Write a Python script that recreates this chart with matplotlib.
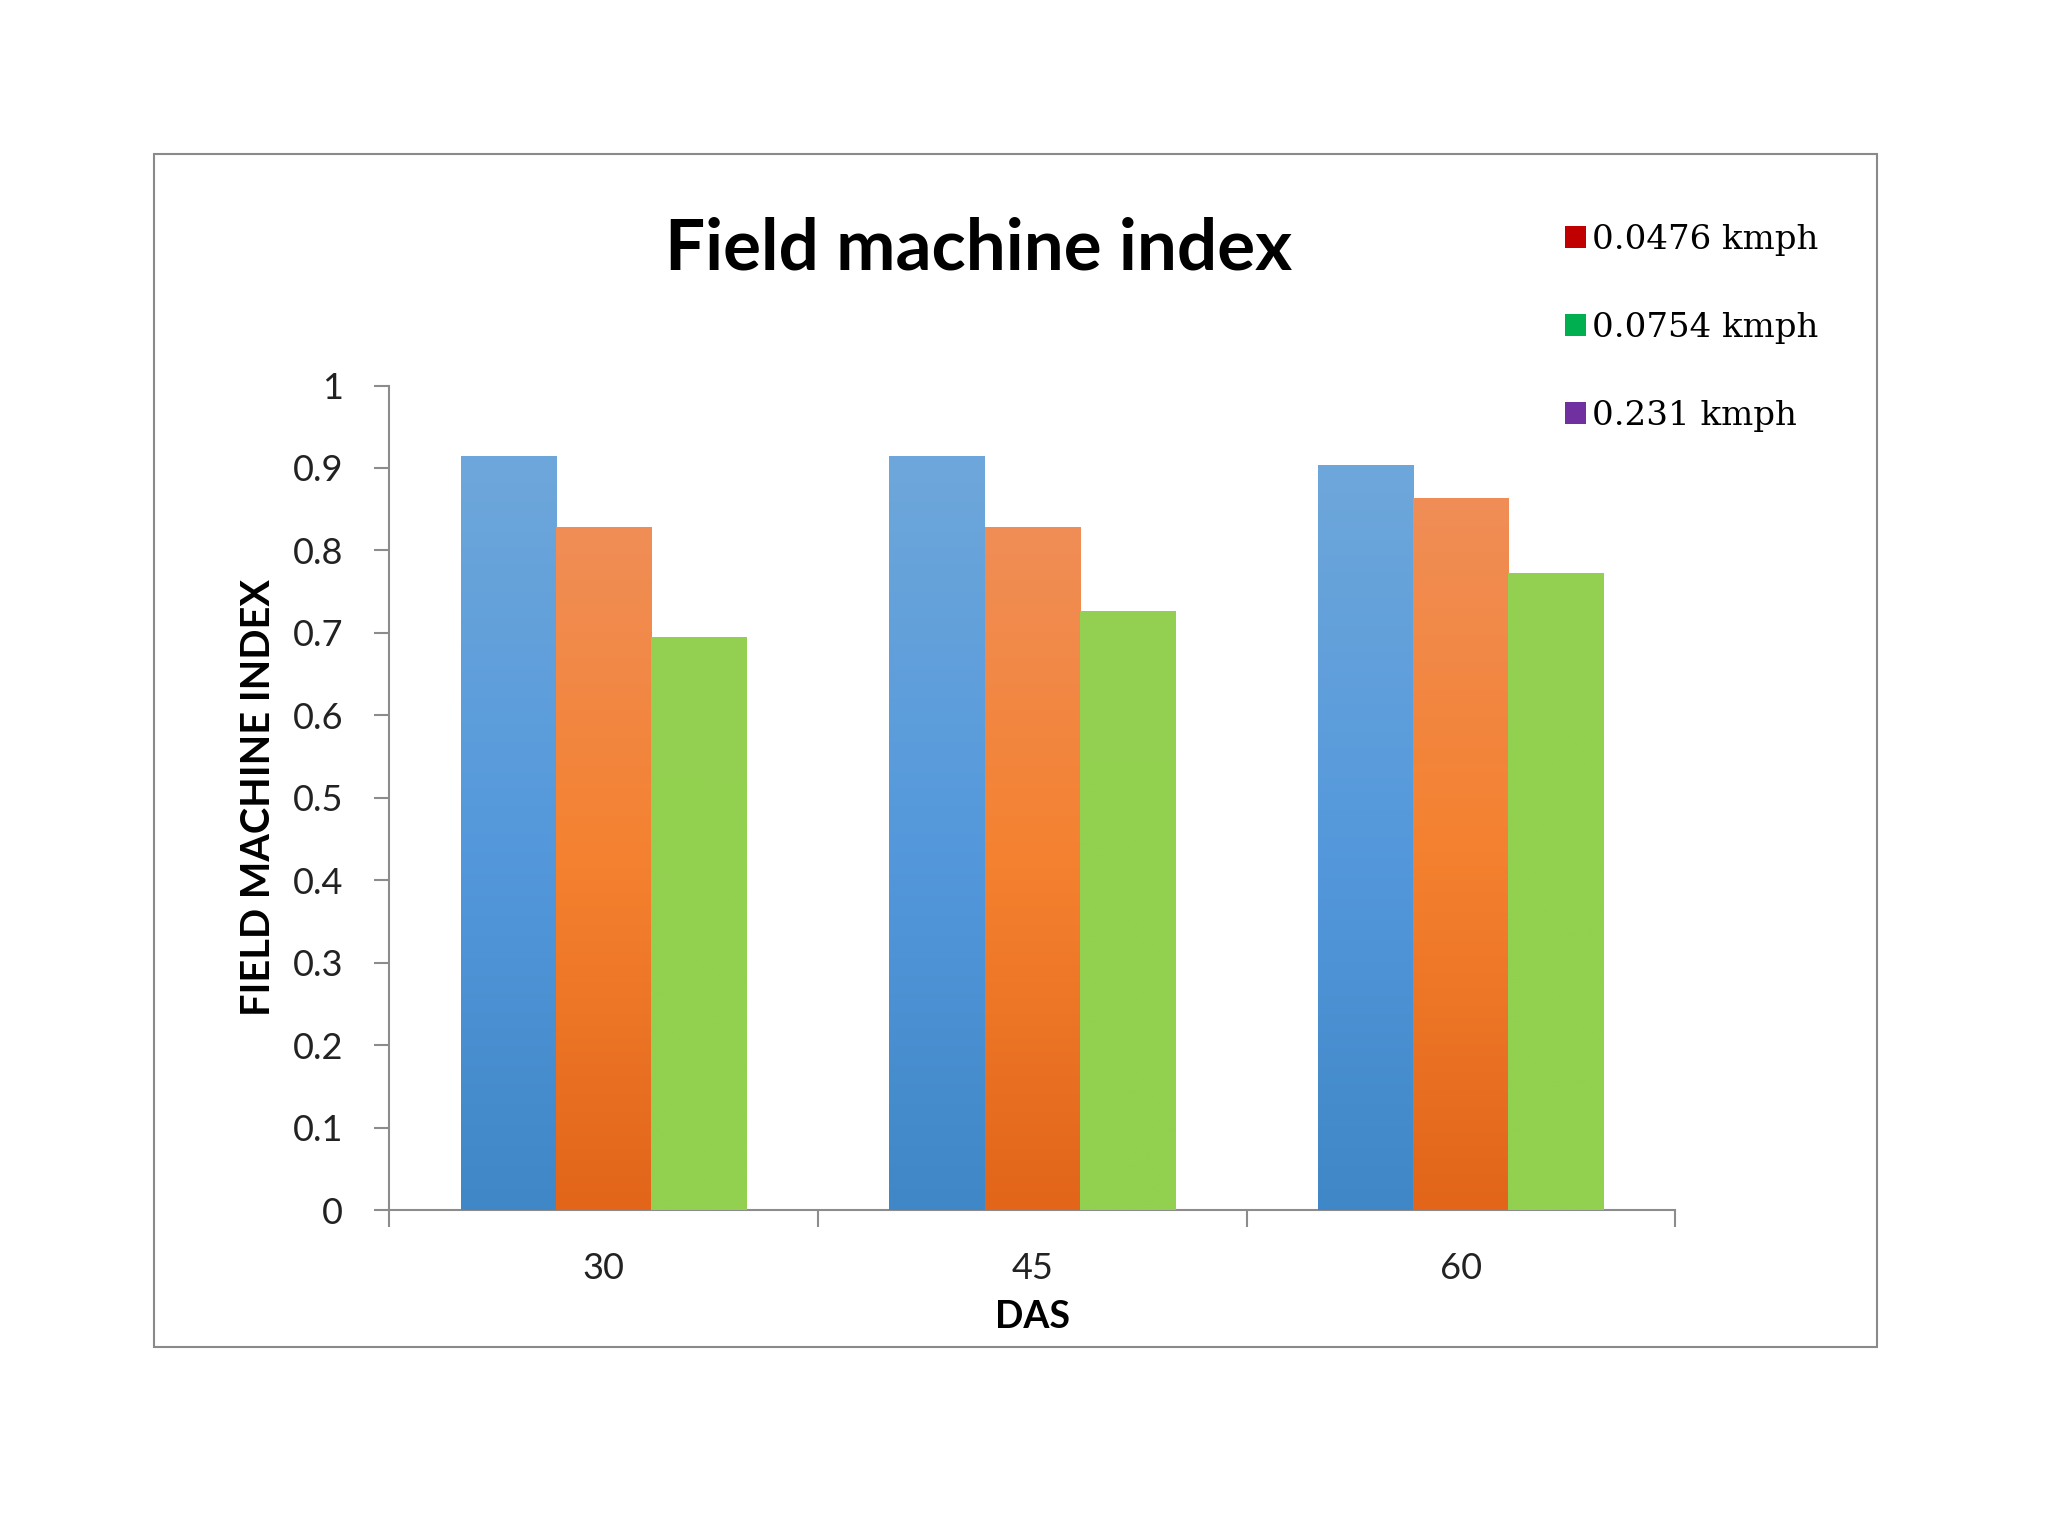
import matplotlib
matplotlib.use("Agg")
import matplotlib.pyplot as plt
import numpy as np
from matplotlib.colors import LinearSegmentedColormap
from matplotlib.patches import Patch, Rectangle

categories = ["30", "45", "60"]
series_a = [0.915, 0.915, 0.904]
series_b = [0.829, 0.829, 0.864]
series_c = [0.695, 0.727, 0.773]
legend_labels = ["0.0476 kmph", "0.0754 kmph", "0.231 kmph"]
legend_colors = ["#c00000", "#00b050", "#7030a0"]
yticks = [0, 0.1, 0.2, 0.3, 0.4, 0.5, 0.6, 0.7, 0.8, 0.9, 1.0]
ytick_labels = ["0", "0.1", "0.2", "0.3", "0.4", "0.5", "0.6", "0.7", "0.8", "0.9", "1"]

gradients = [
    ["#3f87c7", "#5599dc", "#6ea7da"],   # bottom, mid, top
    ["#e2651a", "#f4812f", "#f08e57"],
    ["#92d050", "#92d050", "#94d052"],
]

SANS = ["Lato", "DejaVu Sans"]
SERIF = ["DejaVu Serif"]
AXIS_GRAY = "#8c8c8c"

fig = plt.figure(figsize=(20.48, 15.36), dpi=100)
fig.patch.set_facecolor("white")

# outer frame
fig.patches.append(Rectangle((0.0752, 0.1230), 0.9165 - 0.0752, 0.8997 - 0.1230,
                             transform=fig.transFigure, fill=False,
                             edgecolor="#8a8a8a", linewidth=1.5, zorder=0))

ax = fig.add_axes([0.190, 0.2122, 0.818 - 0.190, 0.749 - 0.2122])
x = np.arange(len(categories))
w = 0.222
for i, (vals, grad) in enumerate(zip([series_a, series_b, series_c], gradients)):
    bars = ax.bar(x + (i - 1) * w, vals, width=w, color=grad[1], edgecolor="none", zorder=2)
    cmap = LinearSegmentedColormap.from_list("g%d" % i, grad)
    grad_img = np.linspace(0, 1, 256).reshape(-1, 1)
    for b in bars:
        x0, y0 = b.get_x(), b.get_y()
        bw, bh = b.get_width(), b.get_height()
        im = ax.imshow(grad_img, cmap=cmap, origin="lower", aspect="auto",
                       extent=[x0, x0 + bw, y0, y0 + bh], zorder=3,
                       interpolation="bilinear")
        im.set_clip_path(b)

ax.set_xlim(-0.5, 2.5)
ax.set_ylim(0, 1.0)
ax.set_yticks(yticks)
ax.set_yticklabels(ytick_labels, fontsize=26, family=SANS, color="#222222")
ax.set_xticks([-0.5, 0.5, 1.5, 2.5])
ax.set_xticklabels([])
ax.set_xticks(x, minor=True)
ax.set_xticklabels(categories, minor=True, fontsize=26, family=SANS, color="#222222")
ax.tick_params(axis="x", which="major", length=12, width=1.5, color=AXIS_GRAY, direction="out")
ax.tick_params(axis="x", which="minor", length=0, pad=30)
ax.tick_params(axis="y", length=11, width=1.5, color=AXIS_GRAY, direction="out", pad=22)

for s in ["top", "right"]:
    ax.spines[s].set_visible(False)
for s in ["left", "bottom"]:
    ax.spines[s].set_color(AXIS_GRAY)
    ax.spines[s].set_linewidth(1.5)

ax.set_ylabel("FIELD MACHINE INDEX", fontsize=28.5, fontweight="bold", family=SANS)
ax.yaxis.set_label_coords(-0.087, 0.5)
ax.set_xlabel("DAS", fontsize=27, fontweight="bold", family=SANS)
ax.xaxis.set_label_coords(0.5, -0.109)

fig.text(0.478, 0.8378, "Field machine index", fontsize=51, fontweight="bold",
         family=SANS, ha="center", va="center", color="black")

handles = [Patch(facecolor=c, edgecolor="none") for c in legend_colors]
fig.legend(handles, legend_labels, loc="upper left", bbox_to_anchor=(0.749, 0.874),
           frameon=False, prop={"family": SERIF, "size": 24.5},
           handlelength=0.62, handleheight=0.62, handletextpad=0.18, labelspacing=1.64)

fig.savefig("out.png", dpi=100, facecolor="white")
